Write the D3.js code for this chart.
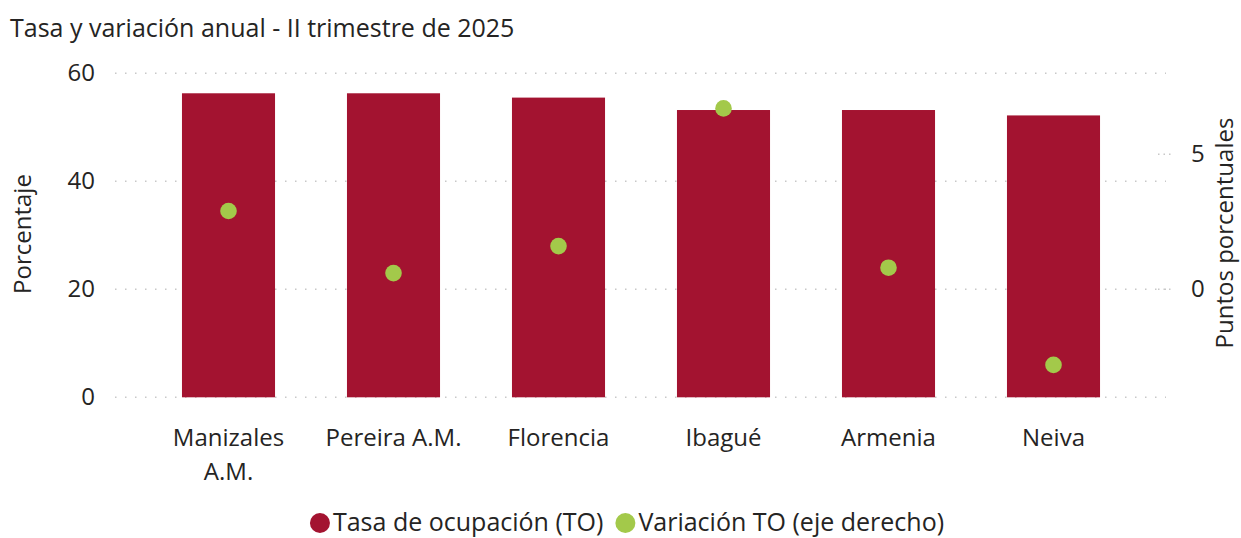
<!DOCTYPE html>
<html>
<head>
<meta charset="utf-8">
<script src="https://cdn.jsdelivr.net/npm/d3@7"></script>
<style>
  body { margin: 0; background: #fff; }
  svg text { font-family: "Open Sans", "Noto Sans", sans-serif; fill: #252423; }
</style>
</head>
<body>
<div id="chart"></div>
<script>
const categories = ["Manizales A.M.", "Pereira A.M.", "Florencia", "Ibagué", "Armenia", "Neiva"];
const tasaOcupacion = [56.3, 56.3, 55.5, 53.2, 53.2, 52.2];
const variacionTO = [2.9, 0.6, 1.6, 6.7, 0.8, -2.8];
const leftTicks = [0, 20, 40, 60];
const rightTicks = [0, 5];

const data = categories.map((c, i) => ({ name: c, to: tasaOcupacion[i], vr: variacionTO[i] }));

const W = 1241, H = 538;
const plotTop = 73.3, plotBottom = 397.3;
const fs = "24px";

const svg = d3.select("#chart").append("svg")
    .attr("width", W)
    .attr("height", H);

const x = d3.scaleBand()
    .domain(categories)
    .range([146, 1136])
    .paddingInner(0.436)
    .paddingOuter(0.218);

const yL = d3.scaleLinear().domain([0, 60]).range([plotBottom, plotTop]);
const yR = d3.scaleLinear().domain([-4, 8]).range([plotBottom, plotTop]);

// title
svg.append("text")
    .attr("x", 10)
    .attr("y", 37)
    .style("font-size", "25px")
    .text("Tasa y variación anual - II trimestre de 2025");

// gridlines left
svg.append("g")
    .selectAll("line")
    .data(leftTicks)
    .enter()
    .append("line")
    .attr("x1", 115)
    .attr("x2", 1166)
    .attr("y1", d => yL(d))
    .attr("y2", d => yL(d))
    .attr("stroke", "#c8c8c8")
    .attr("stroke-width", 1.5)
    .attr("stroke-dasharray", "1.5,8.5");

// short gridlines right
svg.append("g")
    .selectAll("line")
    .data(rightTicks)
    .enter()
    .append("line")
    .attr("x1", 1158)
    .attr("x2", 1173)
    .attr("y1", d => yR(d))
    .attr("y2", d => yR(d))
    .attr("stroke", "#c8c8c8")
    .attr("stroke-width", 1.5)
    .attr("stroke-dasharray", "1.5,4");

// left axis
const axL = svg.append("g")
    .attr("transform", "translate(95,0)")
    .call(d3.axisLeft(yL).tickValues(leftTicks).tickSize(0).tickPadding(0));
axL.select(".domain").remove();
axL.selectAll("text").style("font-size", fs).style("fill", "#252423");

// right axis
const axR = svg.append("g")
    .attr("transform", "translate(1191,0)")
    .call(d3.axisRight(yR).tickValues(rightTicks).tickSize(0).tickPadding(0));
axR.select(".domain").remove();
axR.selectAll("text").style("font-size", fs).style("fill", "#252423");

// bars
svg.selectAll(".bar")
    .data(data)
    .enter()
    .append("rect")
    .attr("class", "bar")
    .attr("x", d => x(d.name))
    .attr("y", d => yL(d.to))
    .attr("width", x.bandwidth())
    .attr("height", d => yL(0) - yL(d.to))
    .attr("fill", "#a31330");

// dots
svg.selectAll(".dot")
    .data(data)
    .enter()
    .append("circle")
    .attr("class", "dot")
    .attr("cx", d => x(d.name) + x.bandwidth() / 2)
    .attr("cy", d => yR(d.vr))
    .attr("r", 8.3)
    .attr("fill", "#a3c94a");

// x labels, wrapped like the original
const xl = svg.append("g");
categories.forEach(c => {
    const t = xl.append("text")
        .attr("x", x(c) + x.bandwidth() / 2)
        .attr("y", 446)
        .attr("text-anchor", "middle")
        .style("font-size", fs)
        .text(c);
    if (t.node().getComputedTextLength() > 160) {
        const words = c.split(" ");
        t.text(null);
        words.forEach((w, i) => {
            t.append("tspan")
                .attr("x", x(c) + x.bandwidth() / 2)
                .attr("dy", i === 0 ? 0 : 34)
                .text(w);
        });
    }
});

// axis titles
svg.append("text")
    .attr("transform", "translate(31,234) rotate(-90)")
    .attr("text-anchor", "middle")
    .style("font-size", fs)
    .text("Porcentaje");

svg.append("text")
    .attr("transform", "translate(1233,233) rotate(-90)")
    .attr("text-anchor", "middle")
    .style("font-size", fs)
    .text("Puntos porcentuales");

// legend
const legendItems = [
    { label: "Tasa de ocupación (TO)", color: "#a31330" },
    { label: "Variación TO (eje derecho)", color: "#a3c94a" }
];
const lg = svg.append("g");
let lx = 0;
legendItems.forEach(item => {
    lg.append("circle")
        .attr("cx", lx + 10)
        .attr("cy", 523)
        .attr("r", 10)
        .attr("fill", item.color);
    const t = lg.append("text")
        .attr("x", lx + 23)
        .attr("y", 531)
        .style("font-size", "25px")
        .text(item.label);
    lx += 23 + t.node().getComputedTextLength() + 12;
});
const lw = lx - 12;
lg.attr("transform", `translate(${627 - lw / 2},0)`);
</script>
</body>
</html>
